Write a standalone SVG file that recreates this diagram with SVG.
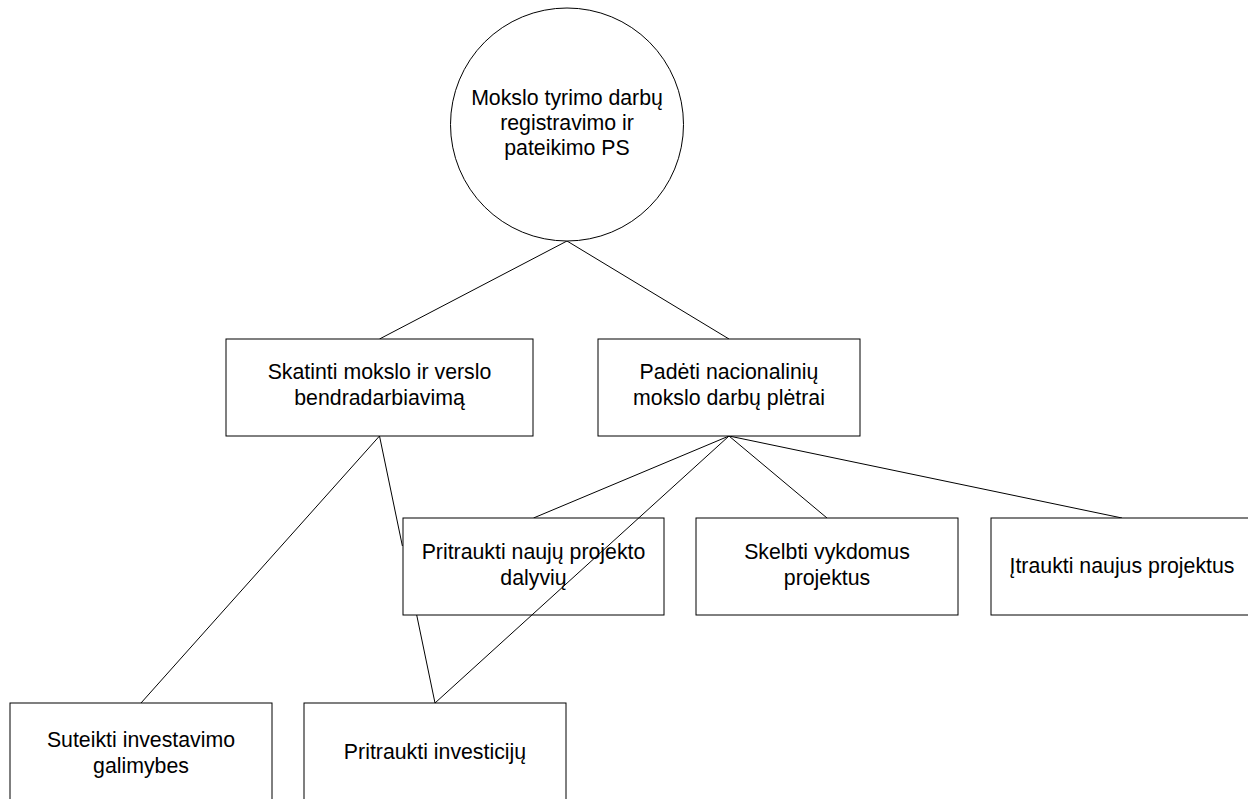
<svg xmlns="http://www.w3.org/2000/svg" width="1248" height="799" viewBox="0 0 1248 799">
  <style>
    .box { fill: #ffffff; stroke: #000000; stroke-width: 1; }
    .link { fill: none; stroke: #000000; stroke-width: 1; }
    .label { font-family: "Liberation Sans", Arial, sans-serif; font-size: 21.3px; fill: #000000; text-anchor: middle; }
  </style>
  <rect x="0" y="0" width="1248" height="799" fill="#ffffff"/>

  <!-- connectors under the boxes -->
  <g id="connectors">
    <line class="link" x1="567" y1="241" x2="379.5" y2="339"/>
    <line class="link" x1="567" y1="241" x2="729" y2="339"/>
    <line class="link" x1="379.5" y1="436" x2="141" y2="703"/>
    <!-- passes behind the "Pritraukti naujų" box -->
    <path class="link" d="M379.5 436 L402.4 546 M416.7 615 L435 703"/>
    <line class="link" x1="729" y1="436" x2="533.5" y2="518"/>
    <line class="link" x1="729" y1="436" x2="827" y2="518"/>
    <line class="link" x1="729" y1="436" x2="1122" y2="518"/>
  </g>

  <g id="node-root">
    <circle class="box" cx="567" cy="124.5" r="116.5"/>
    <text class="label" x="567" y="105">Mokslo tyrimo darbų</text>
    <text class="label" x="567" y="130">registravimo ir</text>
    <text class="label" x="567" y="155">pateikimo PS</text>
  </g>

  <g id="node-skatinti">
    <rect class="box" x="226" y="339" width="307" height="97"/>
    <text class="label" x="379.5" y="379">Skatinti mokslo ir verslo</text>
    <text class="label" x="379.5" y="405">bendradarbiavimą</text>
  </g>

  <g id="node-padeti">
    <rect class="box" x="598" y="339" width="262" height="97"/>
    <text class="label" x="729" y="379">Padėti nacionalinių</text>
    <text class="label" x="729" y="405">mokslo darbų plėtrai</text>
  </g>

  <g id="node-dalyviai">
    <rect class="box" x="403" y="518" width="261" height="97"/>
    <text class="label" x="533.5" y="559">Pritraukti naujų projekto</text>
    <text class="label" x="533.5" y="585">dalyvių</text>
  </g>

  <g id="node-skelbti">
    <rect class="box" x="696" y="518" width="262" height="97"/>
    <text class="label" x="827" y="559">Skelbti vykdomus</text>
    <text class="label" x="827" y="585">projektus</text>
  </g>

  <g id="node-itraukti">
    <rect class="box" x="991" y="518" width="262" height="97"/>
    <text class="label" x="1122" y="573">Įtraukti naujus projektus</text>
  </g>

  <g id="node-suteikti">
    <rect class="box" x="10" y="703" width="262" height="110"/>
    <text class="label" x="141" y="747">Suteikti investavimo</text>
    <text class="label" x="141" y="773">galimybes</text>
  </g>

  <g id="node-investicijos">
    <rect class="box" x="304" y="703" width="262" height="110"/>
    <text class="label" x="435" y="759">Pritraukti investicijų</text>
  </g>

  <!-- drawn over the "Pritraukti naujų" box -->
  <g id="connectors-over">
    <line class="link" x1="729" y1="436" x2="435" y2="703"/>
  </g>
</svg>
